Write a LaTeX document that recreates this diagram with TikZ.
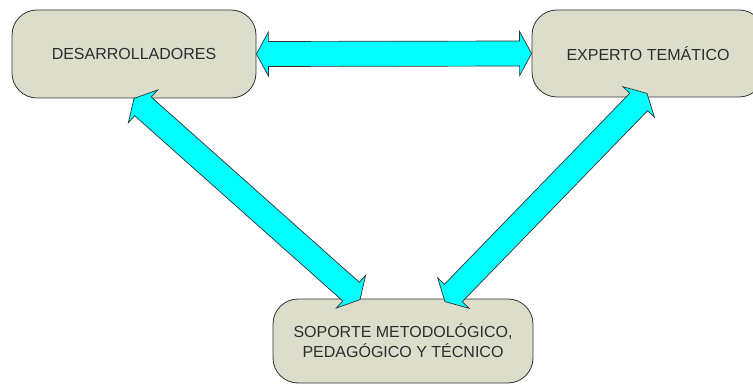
\documentclass[tikz,border=0pt]{standalone}
\usepackage{fontspec}
\setmainfont{Liberation Sans}
\usetikzlibrary{calc}

\definecolor{boxfill}{RGB}{220,222,203}
\definecolor{boxline}{RGB}{50,50,50}
\definecolor{labeltext}{RGB}{45,45,45}
\definecolor{flowfill}{RGB}{0,255,255}

\tikzset{
  rolebox/.style={draw=boxline, line width=0.8pt, fill=boxfill, rounded corners=25pt,
    inner sep=0pt, text=labeltext, align=center,
    font=\fontsize{16}{20}\selectfont},
  flowarrow/.style={draw=boxline, line width=0.7pt, fill=flowfill, line join=miter}
}

% Two-headed block arrow between tips #1 and #2
\newcommand\bothways[2]{%
  \coordinate (ha) at ($(#1)!12pt!(#2)$);
  \coordinate (hb) at ($(#2)!12pt!(#1)$);
  \draw[flowarrow] (#1)
    -- ($(ha)!22pt!90:(#2)$) -- ($(ha)!12.5pt!90:(#2)$)
    -- ($(hb)!12.5pt!-90:(#1)$) -- ($(hb)!22pt!-90:(#1)$)
    -- (#2)
    -- ($(hb)!22pt!90:(#1)$) -- ($(hb)!12.5pt!90:(#1)$)
    -- ($(ha)!12.5pt!-90:(#2)$) -- ($(ha)!22pt!-90:(#2)$)
    -- cycle;
}

\begin{document}
\begin{tikzpicture}[x=1pt, y=-1pt]
  \useasboundingbox (0,0) rectangle (753,385);

  \node[rolebox, minimum width=244pt, minimum height=88pt] (desa) at (134,54) {DESARROLLADORES};
  \node[rolebox, minimum width=232pt, minimum height=87pt] (expt) at (648,53.5) {EXPERTO TEMÁTICO};
  \node[rolebox, minimum width=260pt, minimum height=84pt] (sop) at (403,341)
    {SOPORTE METODOLÓGICO,\\PEDAGÓGICO Y TÉCNICO};

  \coordinate (sopL) at ($(sop.north)+(-43,1)$);
  \coordinate (sopR) at ($(sop.north)+(42,3)$);
  \coordinate (exptS) at ($(expt.south)+(-1,-4)$);

  \bothways{desa.east}{expt.west}
  \bothways{desa.south}{sopL}
  \bothways{exptS}{sopR}
\end{tikzpicture}
\end{document}
